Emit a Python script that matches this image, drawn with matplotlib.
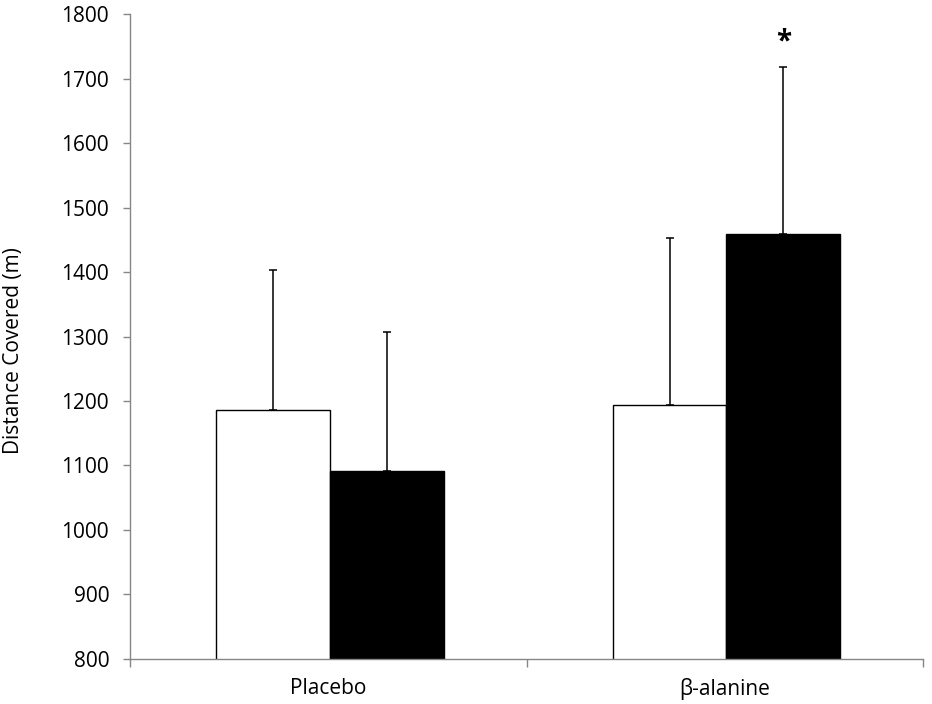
import matplotlib.pyplot as plt
import numpy as np

plt.rcParams['font.family'] = ['Open Sans', 'DejaVu Sans']

categories = ['Placebo', 'β-alanine']
pre_values = [1186, 1194]
pre_errors = [217, 259]
post_values = [1091, 1459]
post_errors = [216, 259]
y_ticks = list(range(800, 1801, 100))

fig = plt.figure(figsize=(9.32, 7.04), dpi=100)
ax = fig.add_axes([0.1395, 0.064, 0.851, 0.916])

x = np.arange(len(categories))
width = 0.287
offset = 0.1435

ax.bar(x - offset + 0.004, pre_values, width, color='white', edgecolor='black', linewidth=1.0, zorder=2)
ax.bar(x + offset + 0.004, post_values, width, color='black', edgecolor='black', linewidth=1.0, zorder=2)

for xs, vals, errs in ((x - offset + 0.004, pre_values, pre_errors),
                       (x + offset + 0.004, post_values, post_errors)):
    ax.errorbar(xs, vals, yerr=[np.zeros(len(errs)), errs], fmt='none', ecolor='black',
                elinewidth=1.1, capsize=2.6, capthick=1.1, zorder=3)

ax.text(x[1] + offset + 0.004, 1757, '*', ha='center', va='center', fontsize=20, fontweight='bold')

ax.set_xlim(-0.5, 1.5)
ax.set_ylim(800, 1800)
ax.set_yticks(y_ticks)
ax.set_xticks(x)
ax.set_xticklabels(categories)
ax.set_xticks([-0.5, 0.5, 1.5], minor=True)
ax.tick_params(axis='x', which='major', length=0, pad=14, labelsize=15)
ax.tick_params(axis='x', which='minor', length=6, color='#868686', width=1)
ax.tick_params(axis='y', length=5, color='#868686', width=1, labelsize=15, pad=10)
ax.set_ylabel('Distance Covered (m)', fontsize=15)
ax.yaxis.set_label_coords(-0.134, 0.4775)

for side in ('top', 'right'):
    ax.spines[side].set_visible(False)
for side in ('left', 'bottom'):
    ax.spines[side].set_color('#868686')
    ax.spines[side].set_linewidth(1)

fig.savefig('out.png', dpi=100)
